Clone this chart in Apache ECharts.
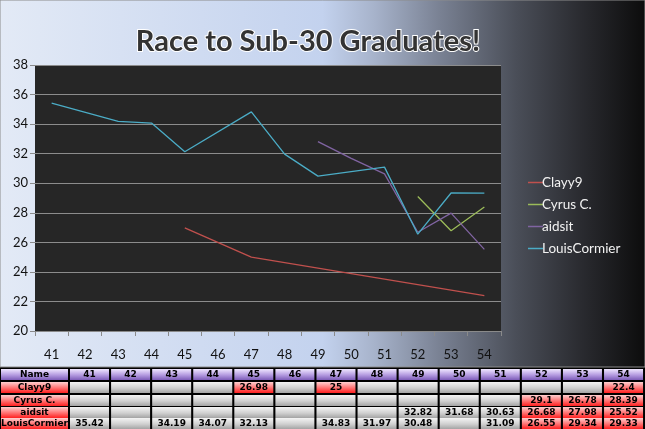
<!DOCTYPE html>
<html><head><meta charset="utf-8">
<script src="https://cdn.jsdelivr.net/npm/echarts@6/dist/echarts.min.js"></script>
<style>html,body{margin:0;padding:0;background:#000;}#c{width:645px;height:429px;}</style>
</head><body><div id="c"></div>
<script>
const categories = ['41','42','43','44','45','46','47','48','49','50','51','52','53','54'];
const seriesNames = ['Clayy9','Cyrus C.','aidsit','LouisCormier'];
const clayy9 = [null,null,null,null,26.98,null,25,null,null,null,null,null,null,22.4];
const cyrus = [null,null,null,null,null,null,null,null,null,null,null,29.1,26.78,28.39];
const aidsit = [null,null,null,null,null,null,null,null,32.82,31.68,30.63,26.68,27.98,25.52];
const louis = [35.42,null,34.19,34.07,32.13,null,34.83,31.97,30.48,null,31.09,26.55,29.34,29.33];
const yTicks = [20,22,24,26,28,30,32,34,36,38];
const titleText = 'Race to Sub-30 Graduates!';

const allData = [clayy9, cyrus, aidsit, louis];
const colors = ['#c0504d','#9bbb59','#8064a2','#4bacc6'];

const chart = echarts.init(document.getElementById('c'));

function vgrad(a,b,c){return {type:'linear',x:0,y:0,x2:0,y2:1,colorStops:[{offset:0,color:a},{offset:0.55,color:b},{offset:1,color:c}]};}
const purple = vgrad('#efe6ff','#b49be0','#7d5cb8');
const red = vgrad('#ffd0d0','#ff7070','#ff2020');
const gray = vgrad('#f4f4f4','#d0d0d0','#a4a4a4');

const graphics = [];
graphics.push({type:'rect',shape:{x:0,y:0,width:645,height:367},style:{fill:{type:'linear',x:0,y:0,x2:1,y2:0,colorStops:[
  {offset:0,color:'#e3eaf6'},{offset:0.5,color:'#c3d2ee'},{offset:0.58,color:'#a7b3cb'},{offset:0.68,color:'#7a8294'},
  {offset:0.8,color:'#4a4e58'},{offset:0.9,color:'#2a2b30'},{offset:1,color:'#0c0c0c'}]},stroke:'#8c8c8c',lineWidth:1},z:-10,silent:true});
graphics.push({type:'text',x:308,y:42,style:{text:titleText,font:'bold 29px Lato',fill:'#333333',stroke:'#ffffff',lineWidth:2,
  align:'center',verticalAlign:'middle',shadowColor:'rgba(0,0,0,0.6)',shadowBlur:4,shadowOffsetX:1,shadowOffsetY:1},z:10});

const rowY = [369,382,395,407,418];
const rowH = 11;
const colX0 = 70, colStep = 41.08, colW = 39;
function cell(x,y,w,h,fill,txt){
  graphics.push({type:'rect',shape:{x:x,y:y,width:w,height:h},style:{fill:fill},z:5,silent:true});
  if(txt!==null && txt!==undefined){
    graphics.push({type:'text',x:x+w/2,y:y+h/2+0.5,style:{text:txt,font:'bold 9px "DejaVu Sans"',fill:'#000',align:'center',verticalAlign:'middle'},z:6,silent:true});
  }
}
cell(1,rowY[0],67,rowH,purple,'Name');
categories.forEach((c,i)=>cell(colX0+i*colStep,rowY[0],colW,rowH,purple,c));
seriesNames.forEach((n,r)=>{
  cell(1,rowY[r+1],67,rowH,red,n);
  allData[r].forEach((v,i)=>{
    const fill = (v===null)?gray:(v<30?red:gray);
    cell(colX0+i*colStep,rowY[r+1],colW,rowH,fill,v===null?null:String(v));
  });
});

chart.setOption({
  backgroundColor:'#000',
  animation:false,
  graphic:graphics,
  grid:{left:35,top:65,width:466,height:266,show:true,backgroundColor:'#262626',borderWidth:0},
  legend:{orient:'vertical',left:523,top:170,icon:'rect',itemWidth:15,itemHeight:1.5,itemGap:7,
    textStyle:{color:'#f2f2f2',fontSize:13.5,fontFamily:'Lato',lineHeight:15,padding:[0,0,0,-6]},data:seriesNames},
  xAxis:{type:'category',data:categories,boundaryGap:true,
    axisLine:{show:true,lineStyle:{color:'#8a8a8a'}},
    axisTick:{show:true,length:5,lineStyle:{color:'#8a8a8a'}},
    axisLabel:{color:'#111',fontSize:13,fontFamily:'Lato',margin:17}},
  yAxis:{type:'value',min:20,max:38,interval:2,
    axisLine:{show:false},
    axisTick:{show:true,length:5,lineStyle:{color:'#8a8a8a'}},
    splitLine:{show:true,lineStyle:{color:'#8c8c8c',width:1}},
    axisLabel:{color:'#111',fontSize:13,fontFamily:'Lato',margin:7,
      formatter:v=>yTicks.indexOf(v)>=0?String(v):''}},
  series:seriesNames.map((n,i)=>({name:n,type:'line',data:allData[i],connectNulls:true,symbol:'none',
    lineStyle:{color:colors[i],width:1.3},itemStyle:{color:colors[i]}}))
});
</script></body></html>
